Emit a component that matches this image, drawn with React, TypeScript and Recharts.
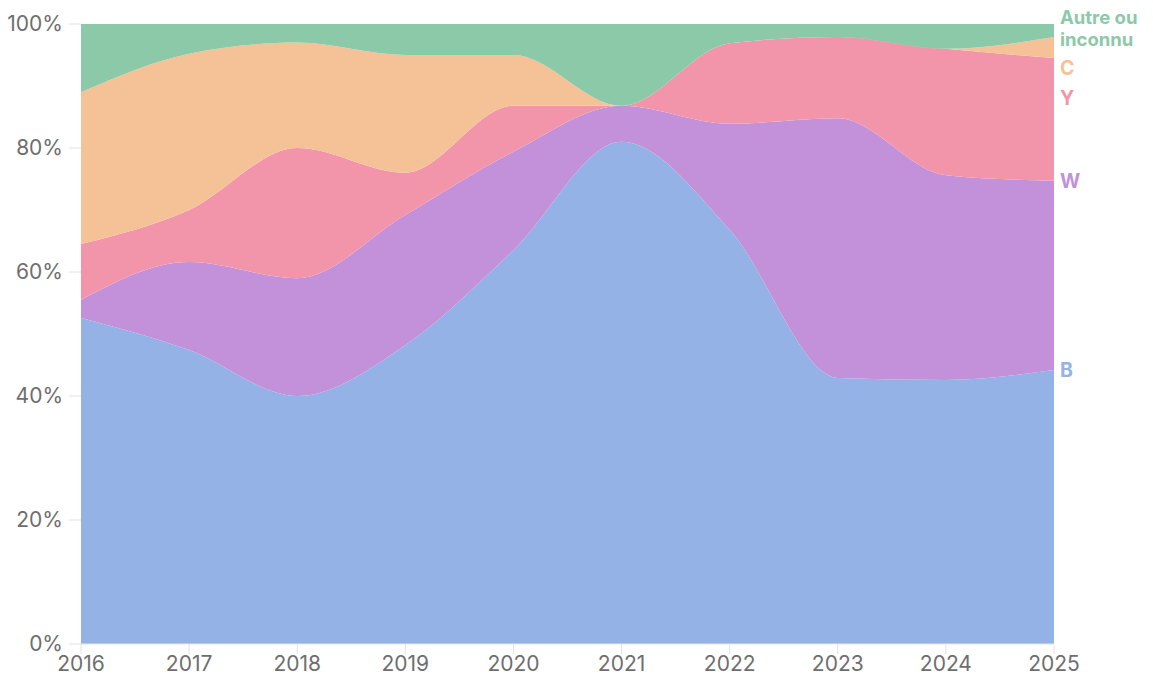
import { Area, AreaChart, XAxis, YAxis } from "recharts";

const years = [2016, 2017, 2018, 2019, 2020, 2021, 2022, 2023, 2024, 2025];

// shares in % (stacked bottom -> top)
const valB = [52.6, 47.4, 40, 48.2, 63.5, 81, 66.8, 42.9, 42.6, 44.2];
const valW = [2.9, 14.2, 19, 21, 15.9, 5.8, 17.1, 41.9, 33, 30.5];
const valY = [9, 8.4, 21, 6.8, 7.4, 0, 13, 13.1, 20.4, 19.8];
const valC = [24.5, 25.2, 17, 19, 8.2, 0, 0, 0, 0, 3.4];
const valAutre = [11, 4.8, 3, 5, 5, 13.2, 3.1, 2.1, 4, 2.1];

const yTicks = [0, 20, 40, 60, 80, 100];

const SERIES = [
  { key: "B", label: ["B"], color: "#94b2e6", dy: 7 },
  { key: "W", label: ["W"], color: "#c391d9", dy: 7 },
  { key: "Y", label: ["Y"], color: "#f295ab", dy: 47 },
  { key: "C", label: ["C"], color: "#f5c197", dy: 38 },
  { key: "Autre", label: ["Autre ou", "inconnu"], color: "#8cc9a8", dy: 0 },
];

const data = years.map((year, i) => ({
  year,
  B: valB[i],
  W: valW[i],
  Y: valY[i],
  C: valC[i],
  Autre: valAutre[i],
}));

const FONT = "Inter, 'Open Sans', sans-serif";

function endLabel(s: (typeof SERIES)[number]) {
  return (props: any) => {
    const { x, y, index } = props;
    if (index !== years.length - 1) return null;
    const multi = s.label.length > 1;
    return (
      <text
        key={s.key}
        x={x + 6}
        y={y + s.dy}
        fill={s.color}
        fontFamily={FONT}
        fontSize={multi ? 18.5 : 19.5}
        fontWeight={700}
      >
        {s.label.map((l, i) => (
          <tspan key={i} x={x + 6} dy={i === 0 ? 0 : 22}>
            {l}
          </tspan>
        ))}
      </text>
    );
  };
}

export default function App() {
  return (
    <div style={{ position: "absolute", left: 0, top: 0, background: "#fff" }}>
      <AreaChart
        width={1153}
        height={675}
        data={data}
        margin={{ top: 24, right: 99, bottom: 1, left: 4 }}
      >
        <XAxis
          dataKey="year"
          height={30}
          tick={{ fontSize: 21, fill: "#6e6e6e", fontFamily: FONT }}
          tickLine={{ stroke: "#e2e2e2" }}
          axisLine={{ stroke: "#e8e8e8" }}
          tickSize={10}
          tickMargin={2}
          interval={0}
        />
        <YAxis
          type="number"
          domain={[0, 100]}
          ticks={yTicks}
          width={77}
          tickFormatter={(v) => `${v}%`}
          tick={{ fontSize: 21, fill: "#6e6e6e", fontFamily: FONT }}
          tickLine={{ stroke: "#e2e2e2" }}
          axisLine={false}
          tickSize={12}
          tickMargin={6}
          allowDataOverflow
        />
        {SERIES.map((s) => (
          <Area
            key={s.key}
            dataKey={s.key}
            stackId="1"
            type="monotone"
            fill={s.color}
            fillOpacity={1}
            stroke="none"
            isAnimationActive={false}
            label={endLabel(s)}
          />
        ))}
      </AreaChart>
    </div>
  );
}
